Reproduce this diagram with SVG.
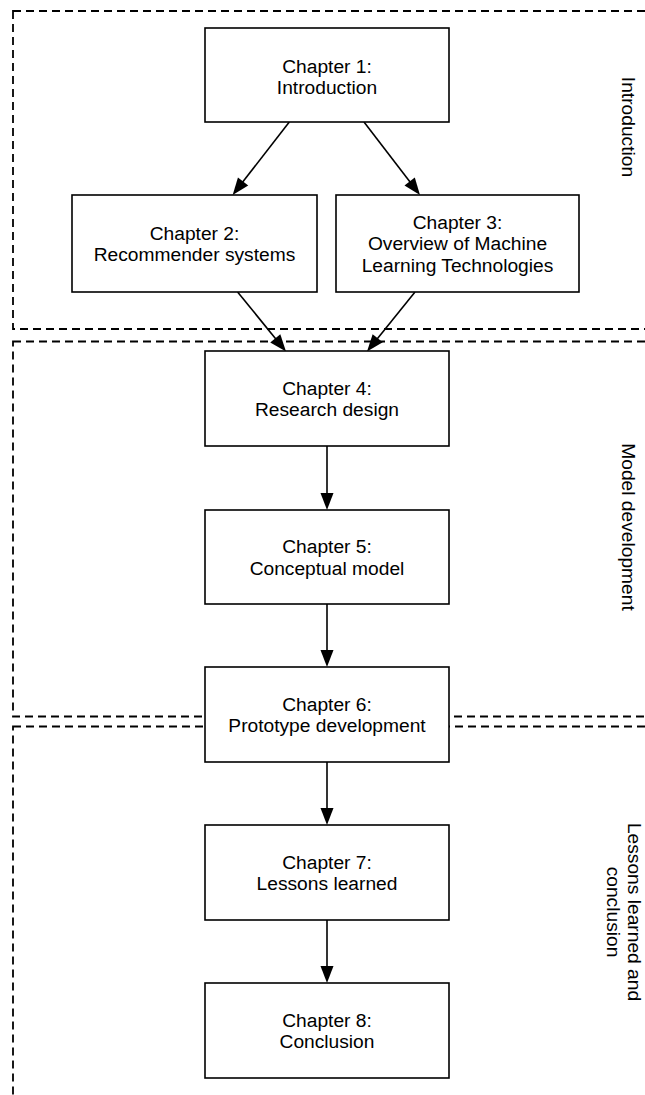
<svg xmlns="http://www.w3.org/2000/svg" width="645" height="1095" viewBox="0 0 645 1095">
<style>
.sec{fill:none;stroke:#000;stroke-width:1.8;stroke-dasharray:8 5}
.box{fill:#fff;stroke:#000;stroke-width:1.6}
.t{font-family:"Liberation Sans",Arial,Helvetica,sans-serif;font-size:19.2px;fill:#000;text-anchor:middle}
.c{fill:none;stroke:#000;stroke-width:1.6}
</style>
<defs>
<marker id="ah" markerUnits="userSpaceOnUse" markerWidth="17" markerHeight="13" refX="7" refY="6.5" orient="auto" overflow="visible">
<path d="M0,0 L17,6.5 L0,13 z" fill="#000"/>
</marker>
</defs>
<g id="sections">
<rect class="sec" x="13" y="11" width="700" height="318"/>
<rect class="sec" x="13" y="341.5" width="700" height="375"/>
<rect class="sec" x="13" y="726.5" width="700" height="420"/>
<text class="t" transform="translate(622,127) rotate(90)">Introduction</text>
<text class="t" transform="translate(622,527) rotate(90)">Model development</text>
<text class="t" transform="translate(628,912) rotate(90)"><tspan x="0" y="0">Lessons learned and</tspan><tspan x="0" y="21.5">conclusion</tspan></text>
</g>
<g id="connectors">
<path class="c" d="M289.3,122 L238.8,187.1" marker-end="url(#ah)"/>
<path class="c" d="M364,122 L413.9,187.1" marker-end="url(#ah)"/>
<path class="c" d="M237.6,292 L279.7,343.7" marker-end="url(#ah)"/>
<path class="c" d="M415,292 L373.3,343.7" marker-end="url(#ah)"/>
<path class="c" d="M327,446 L327,500" marker-end="url(#ah)"/>
<path class="c" d="M327,604 L327,657" marker-end="url(#ah)"/>
<path class="c" d="M327,762 L327,815" marker-end="url(#ah)"/>
<path class="c" d="M327,920 L327,973" marker-end="url(#ah)"/>
</g>
<g id="ch1"><rect class="box" x="205" y="28" width="244" height="94"/>
<text class="t" x="327" y="72.5">Chapter 1:</text><text class="t" x="327" y="94">Introduction</text></g>
<g id="ch2"><rect class="box" x="72" y="195" width="245" height="97"/>
<text class="t" x="194.5" y="239.5">Chapter 2:</text><text class="t" x="194.5" y="261">Recommender systems</text></g>
<g id="ch3"><rect class="box" x="336" y="195" width="243" height="97"/>
<text class="t" x="457.5" y="228.5">Chapter 3:</text><text class="t" x="457.5" y="250">Overview of Machine</text><text class="t" x="457.5" y="271.5">Learning Technologies</text></g>
<g id="ch4"><rect class="box" x="205" y="351" width="244" height="95"/>
<text class="t" x="327" y="394.5">Chapter 4:</text><text class="t" x="327" y="416">Research design</text></g>
<g id="ch5"><rect class="box" x="205" y="510" width="244" height="94"/>
<text class="t" x="327" y="553">Chapter 5:</text><text class="t" x="327" y="574.5">Conceptual model</text></g>
<g id="ch6"><rect class="box" x="205" y="667" width="244" height="95"/>
<text class="t" x="327" y="710.5">Chapter 6:</text><text class="t" x="327" y="732">Prototype development</text></g>
<g id="ch7"><rect class="box" x="205" y="825" width="244" height="95"/>
<text class="t" x="327" y="868.5">Chapter 7:</text><text class="t" x="327" y="890">Lessons learned</text></g>
<g id="ch8"><rect class="box" x="205" y="983" width="244" height="95"/>
<text class="t" x="327" y="1026.5">Chapter 8:</text><text class="t" x="327" y="1048">Conclusion</text></g>
</svg>
